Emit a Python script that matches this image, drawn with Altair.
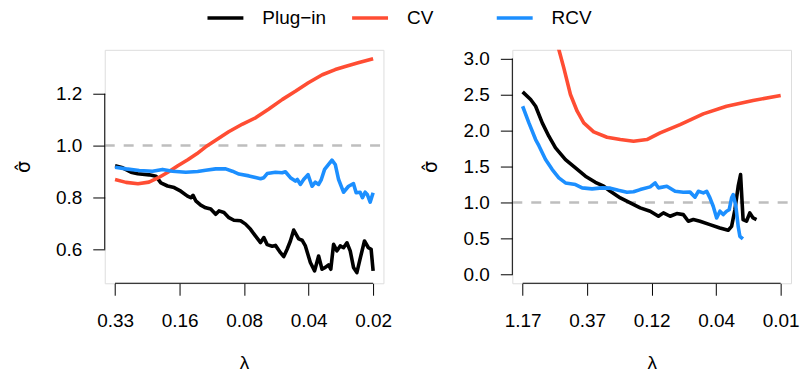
import altair as alt
import pandas as pd

FONT = "Liberation Sans"
TFONT = "DejaVu Sans"
FS = 19
W = 279.4
H = 234

series_names = ["Plug\u2212in", "CV", "RCV"]
series_colors = ["#000000", "#FF4D33", "#1C8FFF"]

# x positions are steps along the (log-spaced) lambda axis: 0 .. 4 = tick labels below
left_x_labels = ["0.33", "0.16", "0.08", "0.04", "0.02"]
right_x_labels = ["1.17", "0.37", "0.12", "0.04", "0.01"]
x_tick_pos = [0, 1, 2, 3, 4]
left_y_ticks = [0.6, 0.8, 1.0, 1.2]
right_y_ticks = [0.0, 0.5, 1.0, 1.5, 2.0, 2.5, 3.0]
left_y_domain = [0.469, 1.369]
right_y_domain = [-0.12, 3.12]
x_domain = [-0.16, 4.16]
ref_level = [1.0]

# ---- left panel ----
L_plugin_t = [0.0, 0.119, 0.247, 0.351, 0.530, 0.633, 0.710, 0.814, 0.916, 1.019,
              1.123, 1.174, 1.209, 1.251, 1.328, 1.405, 1.483, 1.560, 1.611, 1.688,
              1.765, 1.842, 1.946, 2.023, 2.100, 2.178, 2.255, 2.306, 2.358, 2.436,
              2.486, 2.564, 2.615, 2.667, 2.718, 2.769, 2.846, 2.899, 2.950, 3.027,
              3.093, 3.155, 3.208, 3.259, 3.310, 3.344, 3.387, 3.439, 3.490, 3.541,
              3.594, 3.645, 3.696, 3.748, 3.799, 3.866, 3.927, 3.969, 4.0]
L_plugin_v = [0.922, 0.914, 0.897, 0.891, 0.887, 0.882, 0.856, 0.844, 0.838, 0.824,
              0.805, 0.799, 0.808, 0.787, 0.770, 0.760, 0.755, 0.735, 0.748, 0.742,
              0.722, 0.712, 0.710, 0.697, 0.677, 0.651, 0.626, 0.645, 0.618, 0.612,
              0.615, 0.587, 0.572, 0.600, 0.632, 0.674, 0.640, 0.635, 0.613, 0.549,
              0.517, 0.574, 0.523, 0.530, 0.540, 0.523, 0.619, 0.594, 0.613, 0.606,
              0.625, 0.594, 0.530, 0.510, 0.564, 0.632, 0.606, 0.600, 0.517]
L_cv_t = [0.0, 0.17, 0.355, 0.525, 0.664, 0.819, 0.973, 1.127, 1.266, 1.405, 1.56, 1.761,
          1.977, 2.178, 2.378, 2.595, 2.795, 2.996, 3.212, 3.413, 3.568, 3.768, 4.0]
L_cv_v = [0.869, 0.858, 0.853, 0.859, 0.875, 0.897, 0.922, 0.945, 0.968, 0.995, 1.020, 1.053,
          1.083, 1.107, 1.140, 1.178, 1.209, 1.242, 1.273, 1.293, 1.305, 1.319, 1.335]
L_rcv_t = [0.0, 0.17, 0.375, 0.58, 0.736, 0.89, 1.097, 1.28, 1.405, 1.56,
           1.715, 1.818, 1.92, 2.075, 2.255, 2.306, 2.358, 2.486, 2.59, 2.64,
           2.718, 2.795, 2.826, 2.872, 2.923, 2.991, 3.053, 3.104, 3.155, 3.197,
           3.248, 3.362, 3.413, 3.465, 3.541, 3.619, 3.696, 3.737, 3.799, 3.835,
           3.876, 3.912, 3.954, 4.0]
L_rcv_v = [0.916, 0.910, 0.904, 0.901, 0.908, 0.901, 0.897, 0.900, 0.905, 0.910,
           0.910, 0.901, 0.890, 0.883, 0.872, 0.876, 0.892, 0.897, 0.895, 0.899,
           0.876, 0.863, 0.869, 0.850, 0.869, 0.888, 0.843, 0.859, 0.850, 0.869,
           0.908, 0.944, 0.927, 0.869, 0.820, 0.843, 0.853, 0.818, 0.820, 0.799,
           0.820, 0.810, 0.782, 0.818]

# ---- right panel ----
R_plugin_t = [0.0, 0.124, 0.201, 0.304, 0.406, 0.510, 0.664, 0.819, 0.973, 1.127,
              1.256, 1.359, 1.514, 1.668, 1.822, 1.977, 2.105, 2.182, 2.286, 2.389,
              2.491, 2.568, 2.646, 2.749, 2.903, 3.058, 3.186, 3.239, 3.290, 3.341,
              3.378, 3.402, 3.417, 3.470, 3.521, 3.572, 3.625]
R_plugin_v = [2.537, 2.43, 2.337, 2.106, 1.921, 1.759, 1.597, 1.481, 1.366, 1.282,
              1.227, 1.157, 1.065, 0.995, 0.926, 0.88, 0.81, 0.857, 0.81, 0.847,
              0.833, 0.741, 0.764, 0.741, 0.694, 0.648, 0.616, 0.67, 0.9, 1.227,
              1.389, 1.0, 0.764, 0.741, 0.857, 0.787, 0.764]
R_cv_t = [0.448, 0.561, 0.638, 0.741, 0.845, 0.947, 1.101, 1.308, 1.514, 1.719, 1.926,
          2.131, 2.440, 2.800, 3.161, 3.572, 4.0]
R_cv_v = [3.49, 3.125, 2.87, 2.5, 2.268, 2.106, 1.981, 1.907, 1.875, 1.852, 1.875,
          1.968, 2.083, 2.231, 2.338, 2.417, 2.486]
R_rcv_t = [0.0, 0.097, 0.201, 0.252, 0.355, 0.459, 0.561, 0.664, 0.819, 0.922,
           1.076, 1.231, 1.359, 1.483, 1.617, 1.719, 1.822, 1.977, 2.054, 2.105,
           2.235, 2.363, 2.491, 2.595, 2.672, 2.723, 2.800, 2.853, 2.903, 2.954,
           3.007, 3.058, 3.109, 3.161, 3.201, 3.239, 3.264, 3.305, 3.341, 3.367, 3.414]
R_rcv_v = [2.337, 2.106, 1.875, 1.79, 1.597, 1.458, 1.343, 1.273, 1.25, 1.204,
           1.19, 1.204, 1.20, 1.17, 1.143, 1.15, 1.18, 1.218, 1.273, 1.204,
           1.227, 1.157, 1.143, 1.145, 1.075, 1.157, 1.134, 1.157, 1.065, 0.949,
           0.787, 0.88, 0.833, 0.88, 0.90, 1.065, 1.11, 0.95, 0.67, 0.532, 0.495]


def make_df(parts):
    rows = []
    for name, ts, vs in parts:
        for t, v in zip(ts, vs):
            rows.append({"series": name, "t": t, "v": v})
    return pd.DataFrame(rows)


left_df = make_df([(series_names[0], L_plugin_t, L_plugin_v),
                   (series_names[1], L_cv_t, L_cv_v),
                   (series_names[2], L_rcv_t, L_rcv_v)])
right_df = make_df([(series_names[0], R_plugin_t, R_plugin_v),
                    (series_names[1], R_cv_t, R_cv_v),
                    (series_names[2], R_rcv_t, R_rcv_v)])

legend = alt.Legend(
    orient="none", legendX=101, legendY=-52, direction="horizontal", columns=3,
    title=None, symbolType="stroke", symbolSize=1296, symbolStrokeWidth=3.6,
    labelFont=FONT, labelFontSize=FS, labelColor="black", labelOffset=17,
    columnPadding=18, gridAlign="all", padding=0,
)


def panel(df, x_labels, y_ticks, y_domain):
    xs = alt.Scale(domain=x_domain, nice=False, zero=False)
    ys = alt.Scale(domain=y_domain, nice=False, zero=False)
    label_expr = "[" + ",".join("'%s'" % l for l in x_labels) + "][round(datum.value)]"
    xaxis = alt.Axis(
        values=x_tick_pos, labelExpr=label_expr, title="\u03bb", domain=False, grid=False,
        tickSize=12, tickColor="black", tickWidth=1,
        labelFont=FONT, labelFontSize=FS, labelColor="black", labelPadding=16,
        labelFlush=False, labelOverlap=False,
        titleFont=FONT, titleFontSize=FS, titleFontWeight="normal", titleColor="black",
        titlePadding=23, minExtent=47, maxExtent=47,
    )
    yaxis = alt.Axis(
        values=y_ticks, format=".1f", title="\u03c3\u0302", domain=False, grid=False,
        tickSize=12, tickColor="black", tickWidth=1,
        labelFont=FONT, labelFontSize=FS, labelColor="black", labelPadding=11,
        labelFlush=False, labelOverlap=False,
        titleFont=TFONT, titleFontSize=FS, titleFontWeight="normal", titleColor="black",
        titlePadding=21.6, minExtent=50, maxExtent=50,
    )
    X = alt.X("t:Q", scale=xs, axis=xaxis)
    Y = alt.Y("v:Q", scale=ys, axis=yaxis)

    ref = alt.Chart(pd.DataFrame({"v": ref_level})).mark_rule(
        color="#BEBEBE", strokeWidth=2.5, strokeDash=[10, 9]
    ).encode(y=Y, x=alt.value(0), x2=alt.value(W))

    yline = alt.Chart(pd.DataFrame({"v": [min(y_ticks)], "v2": [max(y_ticks)]})).mark_rule(
        color="black", strokeWidth=1
    ).encode(y=Y, y2="v2:Q", x=alt.value(0))

    xline = alt.Chart(pd.DataFrame({"t": [min(x_tick_pos)], "t2": [max(x_tick_pos)]})).mark_rule(
        color="black", strokeWidth=1
    ).encode(x=X, x2="t2:Q", y=alt.value(H))

    lines = alt.Chart(df).mark_line(strokeWidth=3.6, clip=True, strokeJoin="round").encode(
        x=X, y=Y,
        color=alt.Color("series:N",
                        scale=alt.Scale(domain=series_names, range=series_colors),
                        legend=legend),
    )
    return alt.layer(ref, yline, xline, lines).properties(width=W, height=H)


left = panel(left_df, left_x_labels, left_y_ticks, left_y_domain)
right = panel(right_df, right_x_labels, right_y_ticks, right_y_domain)

chart = (
    alt.hconcat(left, right, spacing=128.6, bounds="flush")
    .resolve_scale(color="shared", x="independent", y="independent")
    .properties(padding={"left": 13, "top": -2.5, "right": 0, "bottom": 0}, background="white")
    .configure_view(stroke=None)
    .configure(font=FONT)
)

chart.save("out.html", embed_options={"renderer": "svg", "actions": False})
